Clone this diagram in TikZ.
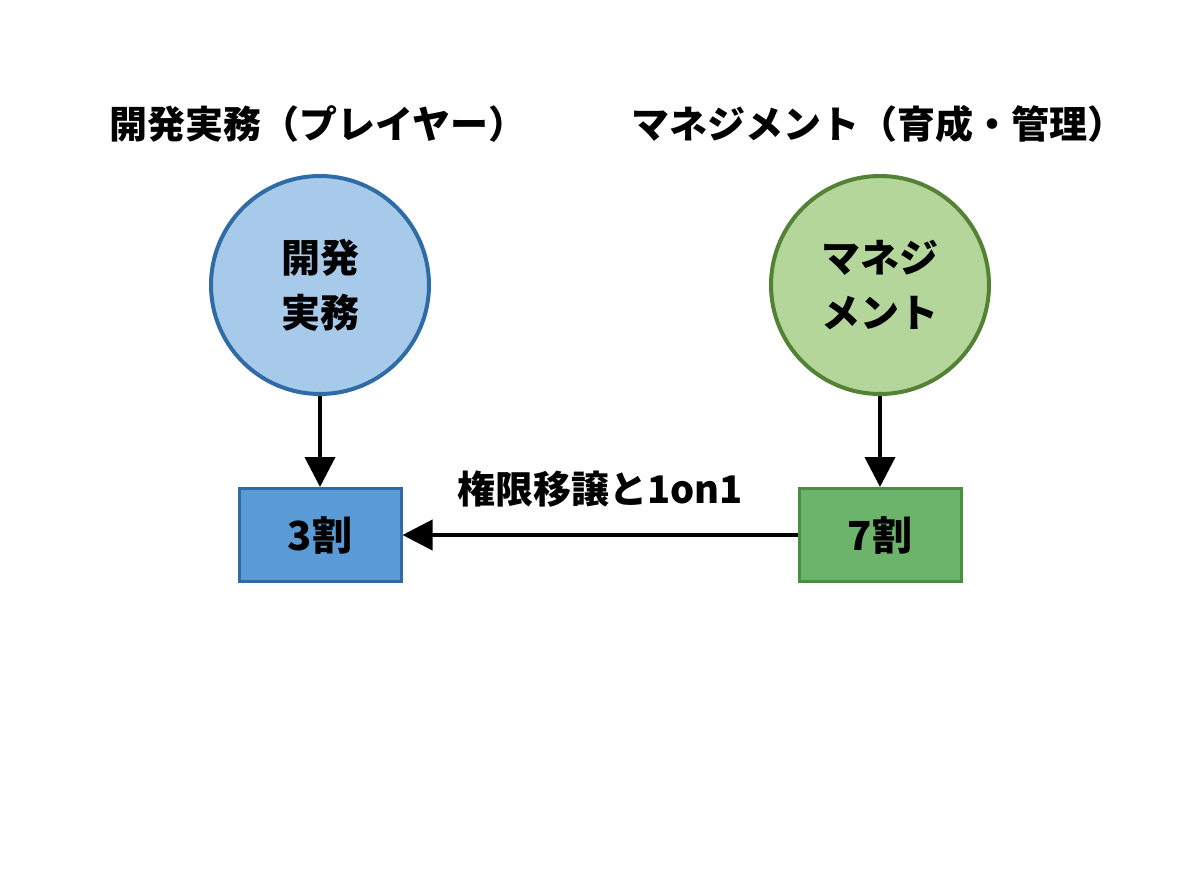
\documentclass[tikz,border=0pt]{standalone}
\usepackage{fontspec}
\newfontfamily\jp{Noto Sans CJK JP}
\usetikzlibrary{arrows.meta}
\definecolor{bluefill}{HTML}{A8CAEA}
\definecolor{blueline}{HTML}{2F6CA6}
\definecolor{boxblue}{HTML}{5B9BD5}
\definecolor{greenfill}{HTML}{B4D69B}
\definecolor{greenline}{HTML}{548235}
\definecolor{boxgreen}{HTML}{6CB36C}
\definecolor{boxgreenline}{HTML}{4A8F3F}
\tikzset{
  title/.style={font=\jp\bfseries\fontsize{38}{42}\selectfont, anchor=center},
  circ/.style={circle, minimum size=218pt, line width=4pt, inner sep=0pt, align=center,
    font=\jp\bfseries\fontsize{39}{55}\selectfont},
  bx/.style={rectangle, minimum width=162pt, minimum height=93pt, line width=3pt, inner sep=0pt,
    font=\jp\bfseries\fontsize{40}{44}\selectfont},
  arr/.style={line width=4pt, -{Triangle[length=30pt,width=30pt]}}
}
\begin{document}
\begin{tikzpicture}[x=1pt,y=-1pt]
\useasboundingbox[fill=white] (0,0) rectangle (1200,896);
\node[title] (t1) at (318,124) {開発実務（プレイヤー）};
\node[title] (t2) at (878,124) {マネジメント（育成・管理）};
\node[circ, fill=bluefill, draw=blueline] (c1) at (320,285) {開発\\実務};
\node[circ, fill=greenfill, draw=greenline] (c2) at (880,285) {マネジ\\メント};
\node[bx, fill=boxblue, draw=blueline] (b1) at (320,535) {3割};
\node[bx, fill=boxgreen, draw=boxgreenline] (b2) at (880,535) {7割};
\draw[arr] (c1.south) -- (b1.north);
\draw[arr] (c2.south) -- (b2.north);
\draw[arr] (b2.west) -- node[above=22pt, font=\jp\bfseries\fontsize{38}{42}\selectfont] (lab) {権限移譲と1on1} (b1.east);
\end{tikzpicture}
\end{document}
